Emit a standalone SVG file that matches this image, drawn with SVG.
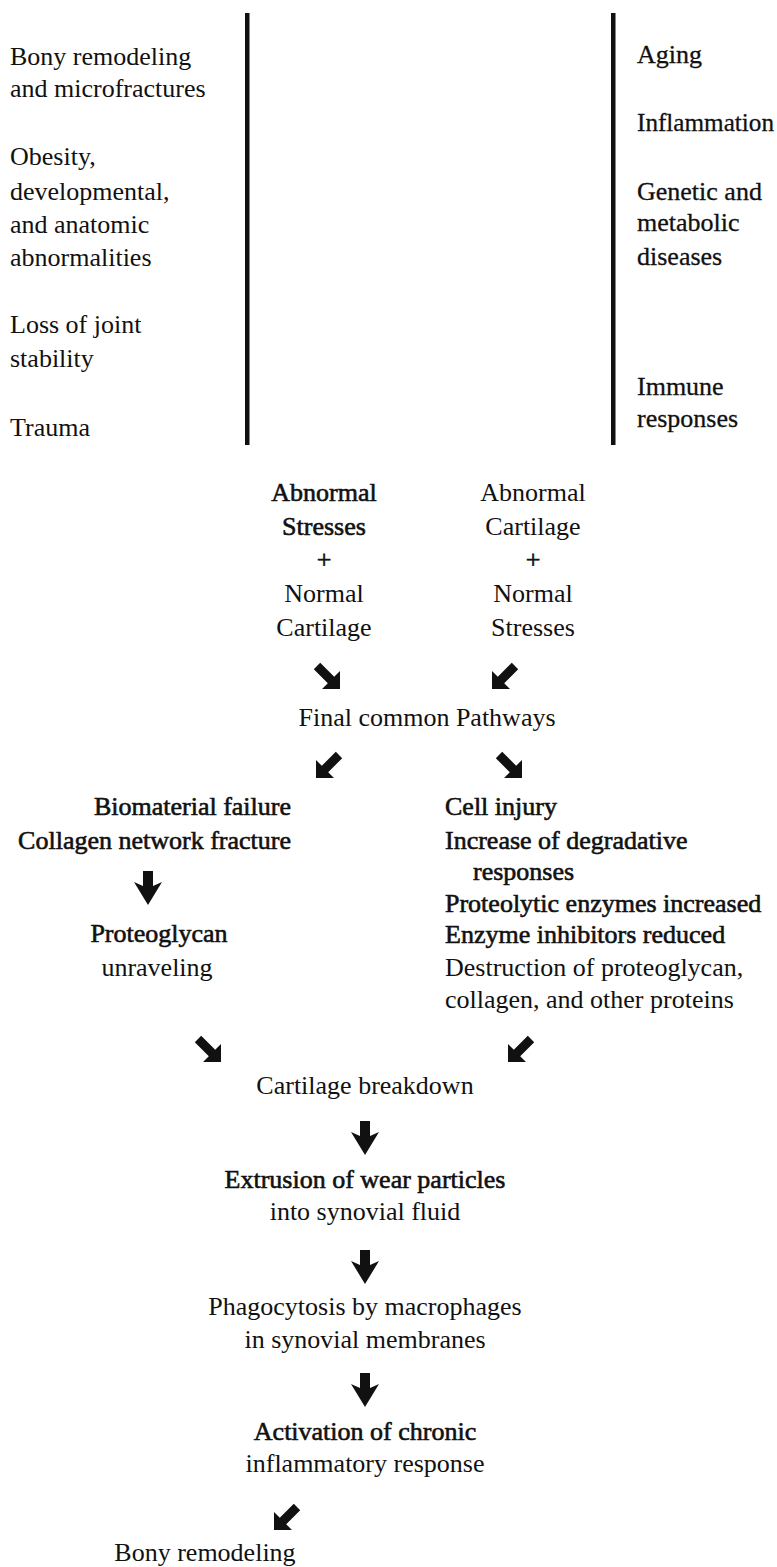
<svg xmlns="http://www.w3.org/2000/svg" xmlns:xlink="http://www.w3.org/1999/xlink" width="777" height="1567" viewBox="0 0 777 1567">
<style>
text{font-family:"Liberation Serif","Times New Roman",serif;font-size:26px;fill:#111;}
.c{text-anchor:middle;}
.e{text-anchor:end;}
.b{stroke:#111;stroke-width:0.6;}
.m{stroke:#111;stroke-width:0.3;}
.bar{fill:#111;}
.arr{fill:#111;}
</style>
<defs>
<path id="se" d="M-6.8,-13.2 L7.2,0.8 L13,-5 L13,13 L-5,13 L0.8,7.2 L-13.2,-6.8 Z"/>
<path id="dn" d="M-5,-17 L5,-17 L5,-2 L14,-6 L0,17 L-14,-6 L-5,-2 Z"/>
</defs>
<rect class="bar" x="245" y="13" width="4.5" height="432"/>
<rect class="bar" x="611" y="13" width="4.5" height="432"/>
<g id="left-factors">
<text x="10" y="65">Bony remodeling</text>
<text x="10" y="97">and microfractures</text>
<text x="10" y="165">Obesity,</text>
<text x="10" y="200">developmental,</text>
<text x="10" y="233">and anatomic</text>
<text x="10" y="266">abnormalities</text>
<text x="10" y="333">Loss of joint</text>
<text x="10" y="367">stability</text>
<text x="10" y="436">Trauma</text>
</g>
<g id="right-factors">
<text class="m" x="637" y="63">Aging</text>
<text class="m" x="637" y="131" textLength="137" lengthAdjust="spacingAndGlyphs">Inflammation</text>
<text class="m" x="637" y="200">Genetic and</text>
<text class="m" x="637" y="231">metabolic</text>
<text class="m" x="637" y="265">diseases</text>
<text class="m" x="637" y="395">Immune</text>
<text class="m" x="637" y="427">responses</text>
</g>
<g id="abnormal-stresses">
<text class="c b" x="324" y="501">Abnormal</text>
<text class="c b" x="324" y="535">Stresses</text>
<text class="c b" x="324" y="568">+</text>
<text class="c" x="324" y="602">Normal</text>
<text class="c" x="324" y="636">Cartilage</text>
</g>
<g id="abnormal-cartilage">
<text class="c" x="533" y="501">Abnormal</text>
<text class="c" x="533" y="535">Cartilage</text>
<text class="c b" x="533" y="568">+</text>
<text class="c" x="533" y="602">Normal</text>
<text class="c" x="533" y="636">Stresses</text>
</g>
<g id="final-common">
<text class="c" x="427" y="726">Final common Pathways</text>
</g>
<g id="biomaterial">
<text class="e b" x="291" y="815">Biomaterial failure</text>
<text class="e b" x="291" y="849">Collagen network fracture</text>
</g>
<g id="cell-injury">
<text class="b" x="445" y="815">Cell injury</text>
<text class="b" x="445" y="849">Increase of degradative</text>
<text class="b" x="473" y="880">responses</text>
<text class="b" x="445" y="912">Proteolytic enzymes increased</text>
<text class="b" x="445" y="943">Enzyme inhibitors reduced</text>
<text x="445" y="976">Destruction of proteoglycan,</text>
<text x="445" y="1008">collagen, and other proteins</text>
</g>
<g id="proteoglycan">
<text class="c b" x="159" y="942">Proteoglycan</text>
<text class="c" x="157" y="976">unraveling</text>
</g>
<g id="cartilage-breakdown">
<text class="c" x="365" y="1094">Cartilage breakdown</text>
</g>
<g id="extrusion">
<text class="c b" x="365" y="1188">Extrusion of wear particles</text>
<text class="c" x="365" y="1220">into synovial fluid</text>
</g>
<g id="phagocytosis">
<text class="c" x="365" y="1315">Phagocytosis by macrophages</text>
<text class="c" x="365" y="1348">in synovial membranes</text>
</g>
<g id="activation">
<text class="c b" x="365" y="1440">Activation of chronic</text>
<text class="c" x="365" y="1472">inflammatory response</text>
</g>
<g id="bony-remodeling">
<text class="c" x="205" y="1561">Bony remodeling</text>
</g>
<g id="connectors" class="arr">
<use xlink:href="#se" transform="translate(327,676)"/>
<use xlink:href="#se" transform="translate(505,676) scale(-1,1)"/>
<use xlink:href="#se" transform="translate(329,765) scale(-1,1)"/>
<use xlink:href="#se" transform="translate(509,765)"/>
<use xlink:href="#dn" transform="translate(148,888)"/>
<use xlink:href="#se" transform="translate(208,1049)"/>
<use xlink:href="#se" transform="translate(521,1049) scale(-1,1)"/>
<use xlink:href="#dn" transform="translate(365,1138)"/>
<use xlink:href="#dn" transform="translate(365,1267)"/>
<use xlink:href="#dn" transform="translate(365,1390)"/>
<use xlink:href="#se" transform="translate(287,1517) scale(-1,1)"/>
</g>
</svg>
